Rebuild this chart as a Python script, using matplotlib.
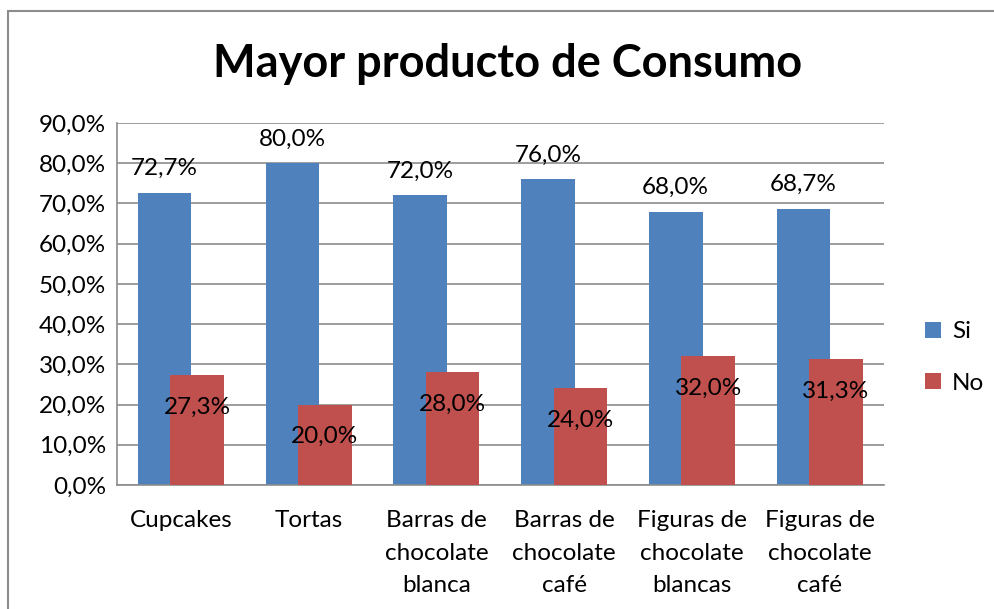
import numpy as np
import matplotlib.pyplot as plt
from matplotlib.patches import Rectangle
from matplotlib.ticker import FuncFormatter

plt.rcParams['font.family'] = ['Lato', 'DejaVu Sans']

categorias = ["Cupcakes", "Tortas", "Barras de\nchocolate\nblanca", "Barras de\nchocolate\ncafé",
              "Figuras de\nchocolate\nblancas", "Figuras de\nchocolate\ncafé"]
si = [72.7, 80.0, 72.0, 76.0, 68.0, 68.7]
no = [27.3, 20.0, 28.0, 24.0, 32.0, 31.3]
titulo = "Mayor producto de Consumo"

AZUL = '#4F81BD'
ROJO = '#C0504D'
GRIS = '#8C8C8C'
FS = 17.5


def pct(v, pos=None):
    return f"{v:.1f}%".replace('.', ',')


fig = plt.figure(figsize=(9.95, 6.09), dpi=100)
ax = fig.add_axes([0.1176, 0.2036, 0.7704, 0.5944])

x = np.arange(len(categorias))
ancho = 0.42
desp = 0.127
b_si = ax.bar(x - desp, si, ancho, color=AZUL, zorder=2, label="Si")
b_no = ax.bar(x + desp, no, ancho, color=ROJO, zorder=3, label="No")

for xi, v in zip(x, si):
    ax.annotate(pct(v), (xi - desp, v), xytext=(0, 17.5), textcoords='offset points',
                ha='center', va='center', fontsize=FS, zorder=5)
for xi, v in zip(x, no):
    ax.annotate(pct(v), (xi + desp, v), xytext=(0, -23), textcoords='offset points',
                ha='center', va='center', fontsize=FS, zorder=5)

ax.set_xlim(-0.5, len(categorias) - 0.5)
ax.set_ylim(0, 90)
ax.set_yticks(np.arange(0, 91, 10))
ax.yaxis.set_major_formatter(FuncFormatter(pct))
ax.set_xticks(x)
ax.set_xticklabels(categorias, fontsize=FS, linespacing=1.68)
ax.tick_params(axis='x', length=0, pad=18)
ax.tick_params(axis='y', length=0, pad=8, labelsize=FS)
ax.grid(axis='y', color=GRIS, linewidth=1.2, zorder=0)
for lado in ['top', 'right']:
    ax.spines[lado].set_visible(False)
ax.spines['left'].set_color(GRIS)
ax.spines['bottom'].set_color(GRIS)
ax.spines['left'].set_linewidth(1.2)
ax.spines['bottom'].set_linewidth(1.2)

fig.text(0.51, 0.895, titulo, ha='center', va='center', fontsize=32.5, fontweight='bold')

fig.legend(handles=[b_si, b_no], loc='center left', bbox_to_anchor=(0.908, 0.413),
           frameon=False, fontsize=FS, handlelength=0.65, handleheight=0.65,
           handletextpad=0.45, labelspacing=1.25)

# marco exterior del gráfico
fig.patches.append(Rectangle((8 / 995, -0.1), 1.2, (609 - 11) / 609 + 0.1,
                             transform=fig.transFigure, fill=False,
                             edgecolor=GRIS, linewidth=1.5))

fig.savefig('out.png', dpi=100)
